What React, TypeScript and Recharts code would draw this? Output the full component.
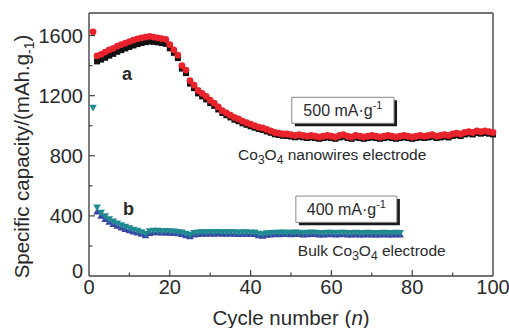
import React from 'react';
import { ScatterChart, Scatter, XAxis, YAxis, ReferenceLine, ReferenceArea, ReferenceDot } from 'recharts';

// Co3O4 nanowires (curve a), cycles 1..100
const nanowireDischarge = [
  1625, 1465, 1475, 1490, 1505, 1515, 1530, 1540, 1550, 1560,
  1570, 1578, 1585, 1590, 1595, 1590, 1585, 1580, 1575, 1540,
  1505, 1470, 1400, 1370, 1300, 1270, 1235, 1215, 1195, 1170,
  1150, 1125, 1100, 1085, 1070, 1055, 1045, 1030, 1020, 1010,
  1000, 990, 985, 975, 965, 955, 950, 945, 945, 940,
  935, 940, 935, 930, 935, 930, 925, 930, 935, 930,
  925, 935, 940, 930, 925, 935, 930, 925, 930, 935,
  930, 925, 930, 935, 930, 925, 930, 935, 930, 925,
  930, 935, 930, 935, 940, 930, 935, 940, 935, 945,
  950, 945, 955, 960, 955, 965, 960, 965, 960, 955,
];
const nanowireCharge = [
  null, 1428, 1440, 1452, 1466, 1478, 1492, 1503, 1514, 1524,
  1534, 1543, 1550, 1556, 1560, 1558, 1555, 1550, 1545, 1515,
  1485, 1450, 1380, 1350, 1280, 1250, 1215, 1195, 1175, 1150,
  1132, 1108, 1085, 1070, 1055, 1040, 1030, 1016, 1006, 996,
  987, 978, 972, 962, 953, 943, 938, 933, 932, 928,
  923, 927, 923, 918, 922, 918, 913, 918, 922, 918,
  913, 922, 927, 918, 913, 922, 918, 913, 918, 922,
  918, 913, 918, 922, 918, 913, 918, 922, 918, 913,
  918, 922, 918, 922, 927, 918, 922, 927, 922, 932,
  937, 932, 942, 947, 942, 952, 947, 952, 947, 942,
];

// bulk Co3O4 (curve b), cycles 1..77
const bulkDischarge = [
  1118, 455, 420, 396, 377, 362, 348, 336, 326, 316,
  307, 299, 290, 280, 296, 300, 299, 297, 298, 296,
  294, 292, 288, 280, 272, 284, 288, 290, 289, 291,
  290, 292, 290, 289, 291, 290, 288, 290, 289, 287,
  288, 280, 276, 283, 285, 287, 286, 288, 287, 286,
  288, 287, 285, 286, 288, 287, 285, 284, 286, 287,
  285, 286, 287, 285, 284, 286, 285, 284, 286, 285,
  284, 285, 286, 284, 285, 286, 285,
];
const bulkCharge = [
  null, 430, 402, 380, 362, 348, 335, 324, 314, 305,
  297, 290, 282, 272, 288, 293, 292, 290, 291, 289,
  287, 285, 281, 273, 266, 277, 281, 283, 282, 284,
  283, 285, 283, 282, 284, 283, 281, 283, 282, 280,
  281, 273, 269, 276, 278, 280, 279, 281, 280, 279,
  281, 280, 278, 279, 281, 280, 278, 277, 279, 280,
  278, 279, 280, 278, 277, 279, 278, 277, 279, 278,
  277, 278, 279, 277, 278, 279, 278,
];

const yTicks = [0, 200, 400, 600, 800, 1000, 1200, 1400, 1600];
const xTicks = [0, 10, 20, 30, 40, 50, 60, 70, 80, 90, 100];

const toPoints = (vals: (number | null)[]) =>
  vals.map((v, i) => ({ x: i + 1, y: v })).filter((p) => p.y !== null);

const FONT = '"Liberation Sans", Arial, sans-serif';
const INK = '#2a2a2a';

const YTick = (props: any) => {
  const { x, y, payload } = props;
  const v = payload.value;
  const major = v % 400 === 0;
  return (
    <g>
      {v !== 0 && <line x1={x} x2={x + (major ? 6 : 3.5)} y1={y} y2={y} stroke="#444" strokeWidth={1.2} />}
      {major && (
        <text x={x - 6} y={v === 0 ? y - 5 : y} dy="0.36em" textAnchor="end" fontSize={20} fontFamily={FONT} fill={INK}>
          {v}
        </text>
      )}
    </g>
  );
};

const XTick = (props: any) => {
  const { x, y, payload } = props;
  const v = payload.value;
  const major = v % 20 === 0;
  return (
    <g>
      {v !== 0 && v !== 100 && <line x1={x} x2={x} y1={y} y2={y - (major ? 6 : 3.5)} stroke="#444" strokeWidth={1.2} />}
      {major && (
        <text x={x} y={y + 18} textAnchor="middle" fontSize={20} fontFamily={FONT} fill={INK}>
          {v}
        </text>
      )}
    </g>
  );
};

const dot = (fill: string) => (p: any) => <circle cx={p.cx} cy={p.cy} r={3.4} fill={fill} />;
const square = (p: any) => <rect x={p.cx - 3} y={p.cy - 3} width={6} height={6} fill="#111" />;
const triUp = (fill: string) => (p: any) => (
  <path d={`M${p.cx - 3.8},${p.cy + 3.2}L${p.cx + 3.8},${p.cy + 3.2}L${p.cx},${p.cy - 3.6}Z`} fill={fill} />
);
const triDown = (fill: string) => (p: any) => (
  <path d={`M${p.cx - 3.8},${p.cy - 3.2}L${p.cx + 3.8},${p.cy - 3.2}L${p.cx},${p.cy + 3.6}Z`} fill={fill} />
);

const BoxText = (props: any) => {
  const { viewBox, value } = props;
  const cx = viewBox.x + viewBox.width / 2;
  const cy = viewBox.y + viewBox.height / 2;
  return (
    <text x={cx} y={cy} dy="0.38em" textAnchor="middle" fontSize={16} fontFamily={FONT} fill={INK}>
      {value} mA·g<tspan dy="-7" fontSize={11}>-1</tspan>
    </text>
  );
};

const Letter = (props: any) => {
  const { viewBox, value } = props;
  return (
    <text x={viewBox.x} y={viewBox.y} dy="0.36em" textAnchor="middle" fontSize={18} fontWeight="bold" fontFamily={FONT} fill={INK}>
      {value}
    </text>
  );
};

const Electrode = (props: any) => {
  const { viewBox, prefix, suffix } = props;
  return (
    <text x={viewBox.x} y={viewBox.y} fontSize={15.5} fontFamily={FONT} fill={INK}>
      {prefix}Co<tspan dy="4" fontSize={12}>3</tspan>
      <tspan dy="-4">O</tspan>
      <tspan dy="4" fontSize={12}>4</tspan>
      <tspan dy="-4">{suffix}</tspan>
    </text>
  );
};

const YTitle = (props: any) => {
  const { viewBox } = props;
  const x = viewBox.x + 22;
  const y = viewBox.y + viewBox.height / 2 + 12;
  return (
    <text x={x} y={y} transform={`rotate(-90 ${x} ${y})`} dy="0.36em" textAnchor="middle" fontSize={20.5} fontFamily={FONT} fill={INK}>
      Specific capacity/(mAh.g<tspan dy="5" fontSize={14}>-1</tspan>
      <tspan dy="-5">)</tspan>
    </text>
  );
};

const XTitle = (props: any) => {
  const { viewBox } = props;
  return (
    <text x={viewBox.x + viewBox.width / 2} y={viewBox.y + 49} textAnchor="middle" fontSize={20.5} fontFamily={FONT} fill={INK}>
      Cycle number (<tspan fontStyle="italic">n</tspan>)
    </text>
  );
};

export default function App() {
  return (
    <div style={{ position: 'absolute', left: 0, top: 0, background: '#fff' }}>
      <ScatterChart width={509} height={328} margin={{ top: 13, right: 16, bottom: 0, left: 0 }}>
        <XAxis
          type="number"
          dataKey="x"
          domain={[0, 100]}
          ticks={xTicks}
          interval={0}
          tickSize={0}
          tickMargin={0}
          tick={<XTick />}
          height={52}
          axisLine={{ stroke: '#444', strokeWidth: 1.4 }}
          label={<XTitle />}
        />
        <YAxis
          type="number"
          dataKey="y"
          domain={[0, 1750]}
          ticks={yTicks}
          interval={0}
          tickSize={0}
          tickMargin={0}
          tick={<YTick />}
          width={89}
          axisLine={{ stroke: '#444', strokeWidth: 1.4 }}
          label={<YTitle />}
        />
        <ReferenceLine y={1750} stroke="#444" strokeWidth={1.4} />
        <ReferenceLine x={100} stroke="#444" strokeWidth={1.4} />

        <ReferenceArea x1={50.95} x2={76.25} y1={996} y2={1169} fill="#1a1a1a" stroke="none" fillOpacity={1} />
        <ReferenceArea x1={50.2} x2={75.5} y1={1016} y2={1189} fill="#fff" stroke="#888" fillOpacity={1} label={<BoxText value="500" />} />
        <ReferenceArea x1={51.95} x2={76.95} y1={337} y2={512} fill="#1a1a1a" stroke="none" fillOpacity={1} />
        <ReferenceArea x1={51.2} x2={76.2} y1={357} y2={532} fill="#fff" stroke="#888" fillOpacity={1} label={<BoxText value="400" />} />

        <ReferenceDot x={9.4} y={1348} r={0} fill="none" stroke="none" label={<Letter value="a" />} />
        <ReferenceDot x={9.8} y={451} r={0} fill="none" stroke="none" label={<Letter value="b" />} />
        <ReferenceDot x={36.9} y={772} r={0} fill="none" stroke="none" label={<Electrode prefix="" suffix=" nanowires electrode" />} />
        <ReferenceDot x={51.7} y={135} r={0} fill="none" stroke="none" label={<Electrode prefix="Bulk " suffix=" electrode" />} />

        <Scatter data={toPoints(nanowireCharge)} shape={square} isAnimationActive={false} />
        <Scatter data={toPoints(nanowireDischarge)} shape={dot('#e8232b')} isAnimationActive={false} />
        <Scatter data={toPoints(bulkCharge)} shape={triUp('#3b45a8')} isAnimationActive={false} />
        <Scatter data={toPoints(bulkDischarge)} shape={triDown('#1f8a90')} isAnimationActive={false} />
      </ScatterChart>
    </div>
  );
}
